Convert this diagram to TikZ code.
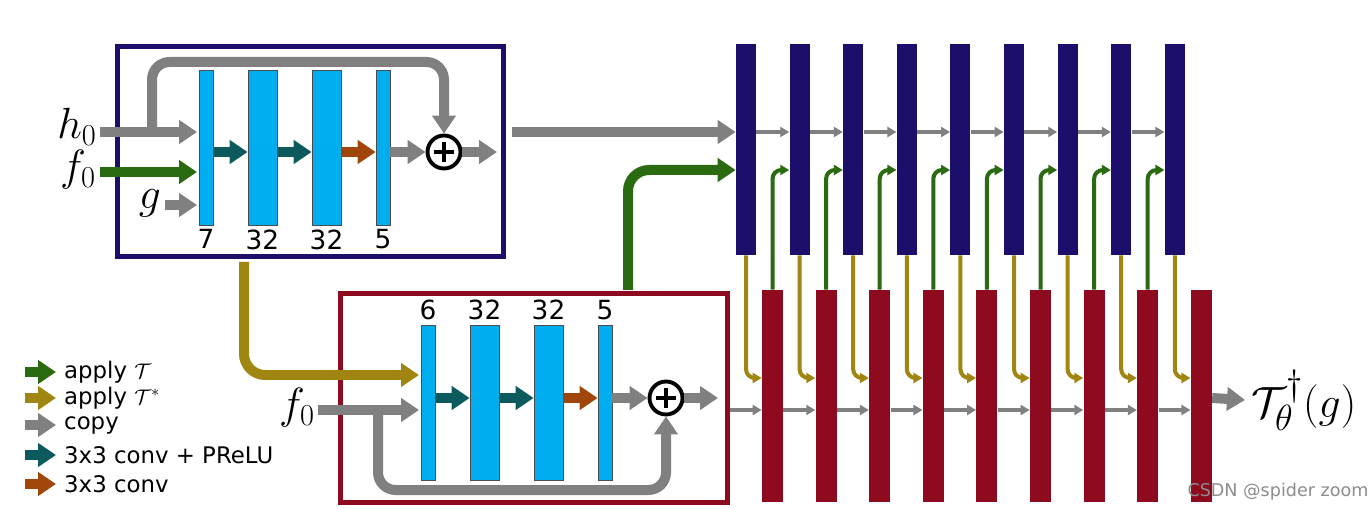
\documentclass[tikz,border=0pt]{standalone}
\usepackage{fontspec}
\setsansfont{DejaVu Sans}
\usetikzlibrary{arrows.meta}
\definecolor{navy}{HTML}{1B0F6B}
\definecolor{wine}{HTML}{8E0A1E}
\definecolor{cyanl}{HTML}{00AEEF}
\definecolor{teal2}{HTML}{0B5B5E}
\definecolor{rust}{HTML}{A0460A}
\definecolor{leaf}{HTML}{2A6A10}
\definecolor{olive}{HTML}{A08510}
\definecolor{grayc}{HTML}{808080}
\tikzset{
  layer/.style={draw=black!70, fill=cyanl, minimum height=3.1cm, inner sep=0pt},
  thin layer/.style={layer, minimum width=0.28cm},
  wide layer/.style={layer, minimum width=0.58cm},
  big/.style={line width=0.2cm, -{Triangle[length=0.36cm,width=0.46cm]}},
  small/.style={line width=0.08cm, -{Triangle[length=0.18cm,width=0.2cm]}},
  plus/.style={circle, draw, fill=white, line width=2.2pt, minimum size=0.66cm, inner sep=0pt},
  lbl/.style={font=\sffamily\fontsize{15}{15}\selectfont},
  leg/.style={font=\sffamily\fontsize{13}{13}\selectfont, anchor=west}
}
\begin{document}
\begin{tikzpicture}[x=0.02cm, y=-0.02cm]
\useasboundingbox (0,0) rectangle (1371,509);

% top block
\draw[navy, line width=0.1cm] (117,47) rectangle (503,257);
\node[thin layer] (a1) at (206,147.5) {};
\node[wide layer] (a2) at (262.5,147.5) {};
\node[wide layer] (a3) at (326.5,147.5) {};
\node[thin layer] (a4) at (383,147.5) {};
\node[plus] (s1) at (444,152) {};
\foreach \n/\t in {a1/7, a2/32, a3/32, a4/5}
  \node[lbl, below=-1pt] at (\n.south) {\t};
\node[font=\fontsize{26}{26}\selectfont] (h0) at (77,127) {$h_0$};
\node[font=\fontsize{26}{26}\selectfont] (f0) at (78,170) {$f_0$};
\node[font=\fontsize{26}{26}\selectfont] (g) at (150,203) {$g$};
\coordinate (skip) at (152,132);
\draw[big, grayc] (100,132) -- (197,132);
\draw[big, leaf] (100,172) -- (197,172);
\draw[big, grayc] (165,205) -- (197,205);
\draw[big, grayc, rounded corners=10] (skip) -- (152,62) -- (444,62) -- (s1.north);
\draw[big, teal2] (a1.east |- 0,152) -- (a2.west |- 0,152);
\draw[big, teal2] (a2.east |- 0,152) -- (a3.west |- 0,152);
\draw[big, rust] (a3.east |- 0,152) -- (a4.west |- 0,152);
\draw[big, grayc] (a4.east |- 0,152) -- (s1.west);
\draw[big, grayc] (s1.east) -- (497,152);

% bottom block
\draw[wine, line width=0.1cm] (340,294) rectangle (727,502);
\node[thin layer] (b1) at (428,402.5) {};
\node[wide layer] (b2) at (484.5,402.5) {};
\node[wide layer] (b3) at (548.5,402.5) {};
\node[thin layer] (b4) at (605,402.5) {};
\node[plus] (s2) at (666,398) {};
\foreach \n/\t in {b1/6, b2/32, b3/32, b4/5}
  \node[lbl, above=-1pt] at (\n.north) {\t};
\node[font=\fontsize{26}{26}\selectfont] (f1) at (297,408) {$f_0$};
\draw[big, olive, rounded corners=12] (244,262) -- (244,375) -- (419,375);
\draw[big, grayc] (318,410) -- (419,410);
\draw[big, grayc, rounded corners=10] (378,410) -- (378,490) -- (666,490) -- (s2.south);
\draw[big, teal2] (b1.east |- 0,398) -- (b2.west |- 0,398);
\draw[big, teal2] (b2.east |- 0,398) -- (b3.west |- 0,398);
\draw[big, rust] (b3.east |- 0,398) -- (b4.west |- 0,398);
\draw[big, grayc] (b4.east |- 0,398) -- (s2.west);
\draw[big, grayc] (s2.east) -- (718,398);

% plus signs
\foreach \s in {s1,s2}
  \draw[line width=2.4pt] ([xshift=-5.5pt]\s.center) -- ([xshift=5.5pt]\s.center)
    ([yshift=-5.5pt]\s.center) -- ([yshift=5.5pt]\s.center);

% unrolled iterations
\foreach \i in {1,...,9}{
  \node[fill=navy, minimum width=0.4cm, minimum height=4.22cm, inner sep=0pt] (n\i) at ({746+53.6*(\i-1)},149.5) {};
  \node[fill=wine, minimum width=0.42cm, minimum height=4.24cm, inner sep=0pt] (r\i) at ({772.5+53.6*(\i-1)},396) {};
}
\draw[big, grayc] (512,132) -- (n1.west |- 0,132);
\draw[big, leaf, rounded corners=12] (628,290) -- (628,170) -- (n1.west |- 0,170);
\draw[small, grayc] (730,410) -- (r1.west |- 0,410);
\foreach \i [count=\j from 2] in {1,...,8}{
  \draw[small, grayc] (n\i.east |- 0,132) -- (n\j.west |- 0,132);
  \draw[small, grayc] (r\i.east |- 0,410) -- (r\j.west |- 0,410);
  \draw[small, leaf, rounded corners=5] (r\i.north) -- (r\i.north |- 0,170) -- (n\j.west |- 0,170);
}
\foreach \i in {1,...,9}
  \draw[small, olive, rounded corners=5] (n\i.south) -- (n\i.south |- 0,378) -- (r\i.west |- 0,378);
\node[anchor=west, font=\fontsize{30}{30}\selectfont] (out) at (1245,400) {$\mathcal{T}_\theta^\dagger(g)$};
\draw[big, grayc] (r9.east |- 0,398) -- (out.west);

% legend
\foreach \y/\c/\t in {372/leaf/{apply $\mathcal{T}$}, 398/olive/{apply $\mathcal{T}^*$}, 425/grayc/copy, 455/teal2/{3x3 conv + PReLU}, 484/rust/{3x3 conv}}{
  \draw[big, \c] (25,\y) -- (56,\y);
  \node[leg] at (58,\y) {\t};
}
\node[font=\sffamily\fontsize{10}{10}\selectfont, text=black!45] (wm) at (1278,492) {CSDN @spider zoom};
\end{tikzpicture}
\end{document}
